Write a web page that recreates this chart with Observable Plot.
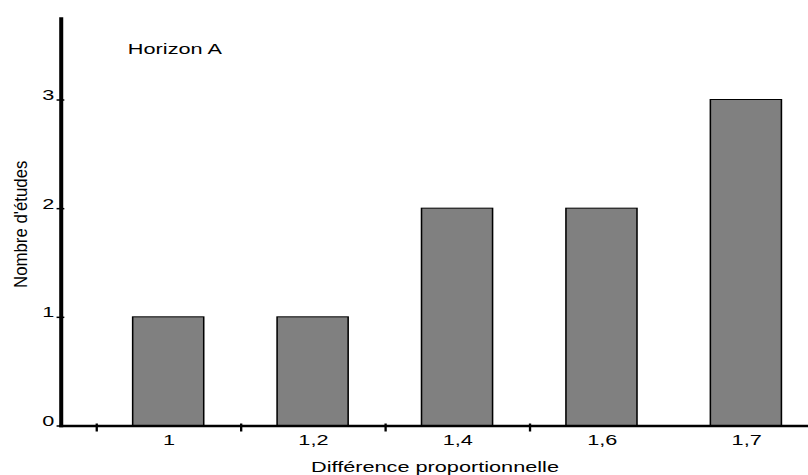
<!DOCTYPE html>
<html><head><meta charset="utf-8">
<script src="https://cdn.jsdelivr.net/npm/d3@7"></script>
<script src="https://cdn.jsdelivr.net/npm/@observablehq/plot@0.6"></script>
<style>html,body{margin:0;padding:0;background:#fff;overflow:hidden;}</style>
</head><body><div id="chart"></div>
<script>
const categories = ["1", "1,2", "1,4", "1,6", "1,7"];
const values = [1, 1, 2, 2, 3];
const yTicks = [0, 1, 2, 3];
const title = "Horizon A";
const xLabel = "Différence proportionnelle";
const yLabel = "Nombre d'études";

const data = categories.map((c, i) => ({i, c, v: values[i]}));
const boundaries = d3.range(categories.length - 1).map(i => i - 0.5);
const S = 1.55; // the reference is horizontally stretched
const W = 808 / S;
const font = "'Liberation Sans', Arial, Helvetica, sans-serif";

const svg = Plot.plot({
  width: W, height: 475,
  marginLeft: 39, marginRight: 0, marginTop: 18, marginBottom: 49.5,
  style: {fontFamily: font, fontSize: "14px", color: "#000", background: "#fff"},
  x: {type: "linear", domain: [-0.746, 4.43], label: null},
  y: {domain: [0, 3.75], label: null},
  marks: [
    Plot.rectY(data, {x1: d => d.i - 0.246, x2: d => d.i + 0.246, y: "v", fill: "#808080", stroke: "#000", strokeWidth: 1}),
    Plot.frame({anchor: "left", strokeWidth: 2.6, stroke: "#000"}),
    Plot.frame({anchor: "bottom", strokeWidth: 2.6, stroke: "#000"}),
    Plot.axisX({ticks: boundaries, tickSize: 8, dy: -2, text: null, strokeWidth: 1.5, label: null}),
    Plot.axisX({ticks: d3.range(categories.length), tickSize: 0, tickPadding: 9.5, tickFormat: i => categories[i], label: null, fontSize: 14}),
    Plot.axisY({ticks: yTicks, tickSize: 5, dx: 2.5, text: null, strokeWidth: 1.5, label: null}),
    Plot.axisY({ticks: yTicks, tickSize: 0, tickPadding: 4.5, lineAnchor: "bottom", label: null, tickFormat: d => String(d), fontSize: 14}),
    Plot.text([title], {frameAnchor: "top-left", textAnchor: "start", lineAnchor: "bottom", dx: 43, dy: 35.3, fontSize: 14}),
    Plot.text([xLabel], {frameAnchor: "bottom", textAnchor: "middle", lineAnchor: "bottom", dy: 46, fontSize: 14}),
    Plot.text([yLabel], {frameAnchor: "left", textAnchor: "middle", rotate: -90, lineAnchor: "bottom", dx: -21.8, dy: 2, fontSize: 12})
  ]
});

svg.setAttribute("preserveAspectRatio", "none");
svg.setAttribute("width", 808);
svg.setAttribute("height", 475);
svg.style.width = "808px";
svg.style.height = "475px";
svg.style.maxWidth = "none";
for (const t of svg.querySelectorAll("text")) {
  if (t.textContent === yLabel) t.setAttribute("transform", (t.getAttribute("transform") || "") + " scale(1.4,1)");
}
document.getElementById("chart").appendChild(svg);
</script>
</body></html>
